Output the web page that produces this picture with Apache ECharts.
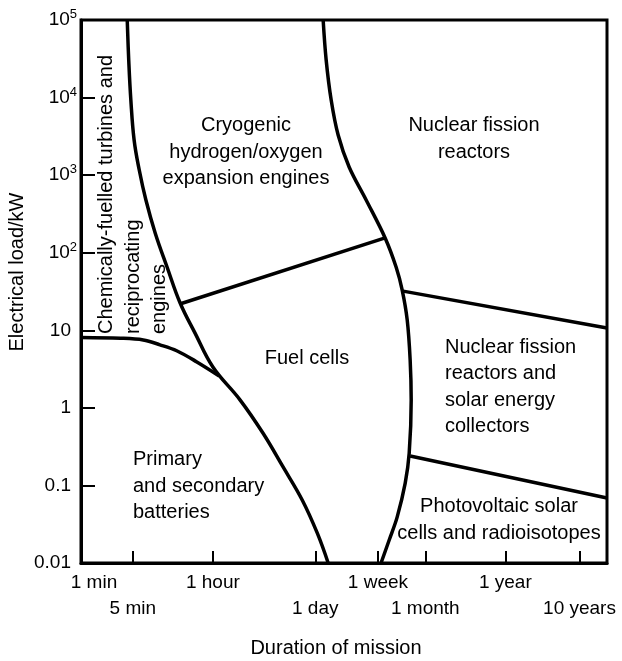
<!DOCTYPE html>
<html>
<head>
<meta charset="utf-8">
<title>Power sources by load and mission duration</title>
<script src="https://cdn.jsdelivr.net/npm/echarts@6/dist/echarts.min.js"></script>
<style>
  html, body { margin: 0; padding: 0; background: #fff; }
  #chart { width: 622px; height: 661px; }
</style>
</head>
<body>
<div id="chart"></div>
<script>
// durations in minutes, loads in kW
var durTicks = [1, 5, 60, 1440, 10080, 43830, 525960, 5259600];
var durNames = ['1 min', '5 min', '1 hour', '1 day', '1 week', '1 month', '1 year', '10 years'];
var loadTicks = [0.01, 0.1, 1, 10, 100, 1000, 10000, 100000];

// chemical engines | cryogenic engines, then batteries | fuel cells
var chemBoundary = [[4.2, 100000], [4.4, 30500], [4.7, 9300], [5.2, 2840], [6.1, 1165], [7.5, 478],
  [10, 180], [14.5, 65], [21.7, 22.5], [34.5, 9.2], [60, 3.36], [140, 1.26], [285, 0.47],
  [530, 0.173], [960, 0.065], [1530, 0.0244], [2150, 0.01]];
// top of the batteries region
var batteryTop = [[1, 8.1], [3.4, 7.9], [6.9, 7.5], [11.6, 6.5], [19.5, 5.45], [36, 3.94], [73, 2.58]];
// left edge of the nuclear / solar regions
var nuclearBoundary = [[1840, 100000], [2020, 30500], [2360, 9300], [2930, 3290], [4120, 1274],
  [6990, 478], [12600, 155], [17750, 65], [21400, 33], [25000, 13.6], [27400, 4.14], [28300, 1.26],
  [26600, 0.26], [23500, 0.107], [18300, 0.039], [14300, 0.0198], [11100, 0.01]];
var fuelCellTop = [[22, 22], [12600, 155]];
var solarTop = [[22000, 32], [12350000, 10.7]];
var photovoltaicTop = [[27400, 0.24], [12350000, 0.069]];

var X_MAX = 12350000;
var FONT = "'Liberation Sans', Arial, sans-serif";

// tick labels alternate between two rows under the axis
var rowOne = durTicks.filter(function (v, i) { return i % 2 === 0; });
var rowTwo = durTicks.filter(function (v, i) { return i % 2 === 1; });

function tickName(v) {
  for (var i = 0; i < durTicks.length; i++) {
    if (Math.abs(Math.log10(durTicks[i]) - Math.log10(v)) < 0.01) return durNames[i];
  }
  return '';
}

function boundary(name, data, smooth) {
  return {
    name: name,
    type: 'line',
    data: data,
    smooth: smooth,
    showSymbol: false,
    silent: true,
    lineStyle: { color: '#000', width: 3.5 },
    z: 3
  };
}

function label(text, x, y, align, rotate) {
  return {
    type: 'text',
    x: x,
    y: y,
    rotation: rotate ? Math.PI / 2 : 0,
    style: {
      text: text,
      fill: '#000',
      fontSize: 20,
      fontFamily: FONT,
      lineHeight: 26.5,
      align: align,
      verticalAlign: 'middle'
    }
  };
}

var chart = echarts.init(document.getElementById('chart'));

var option = {
  animation: false,
  grid: {
    left: 81,
    top: 20,
    width: 526,
    height: 543,
    show: true,
    borderColor: '#000',
    borderWidth: 3
  },
  xAxis: [{
    type: 'log',
    logBase: 10,
    min: 1,
    max: X_MAX,
    axisLine: { lineStyle: { color: '#000', width: 3 } },
    axisTick: {
      inside: true,
      length: 12,
      customValues: durTicks.slice(1),
      lineStyle: { color: '#000', width: 2 }
    },
    axisLabel: {
      customValues: rowOne,
      showMinLabel: true,
      showMaxLabel: true,
      margin: 10,
      color: '#000',
      fontSize: 19,
      fontFamily: FONT,
      formatter: function (v) {
        var name = tickName(v);
        return v < 2 ? '{first|' + name + '}' : name;
      },
      rich: {
        first: { fontSize: 19, fontFamily: FONT, color: '#000', padding: [0, 0, 0, 26] }
      }
    },
    splitLine: { show: false }
  }, {
    type: 'log',
    logBase: 10,
    min: 1,
    max: X_MAX,
    position: 'bottom',
    axisLine: { show: false },
    axisTick: { show: false },
    axisLabel: {
      customValues: rowTwo,
      showMinLabel: true,
      showMaxLabel: true,
      margin: 36,
      color: '#000',
      fontSize: 19,
      fontFamily: FONT,
      formatter: tickName
    },
    splitLine: { show: false }
  }],
  yAxis: {
    type: 'log',
    logBase: 10,
    min: 0.01,
    max: 100000,
    axisLine: { lineStyle: { color: '#000', width: 3 } },
    axisTick: {
      inside: true,
      length: 14,
      customValues: loadTicks.slice(1, -1),
      lineStyle: { color: '#000', width: 2 }
    },
    axisLabel: {
      customValues: loadTicks,
      showMinLabel: true,
      showMaxLabel: true,
      margin: 4,
      formatter: function (v) {
        var e = Math.round(Math.log10(v));
        if (e >= 2) return '{n|10}{sup|' + e + '}';
        var plain = { 1: '10', 0: '1', '-1': '0.1', '-2': '0.01' }[e];
        return '{p|' + plain + '}';
      },
      rich: {
        n: { fontSize: 19, fontFamily: FONT, color: '#000' },
        sup: { fontSize: 13, fontFamily: FONT, color: '#000', padding: [0, 0, 11, 0] },
        p: { fontSize: 19, fontFamily: FONT, color: '#000', padding: [0, 6, 0, 0] }
      }
    },
    splitLine: { show: false }
  },
  series: [
    boundary('chemical', chemBoundary, 0.4),
    boundary('batteries', batteryTop, 0.35),
    boundary('nuclear', nuclearBoundary, 0.35),
    boundary('fuel cells', fuelCellTop, false),
    boundary('solar', solarTop, false),
    boundary('photovoltaic', photovoltaicTop, false)
  ],
  graphic: [
    label('Cryogenic\nhydrogen/oxygen\nexpansion engines', 246, 152, 'center'),
    label('Nuclear fission\nreactors', 474, 139, 'center'),
    label('Fuel cells', 307, 358, 'center'),
    label('Nuclear fission\nreactors and\nsolar energy\ncollectors', 445, 387, 'left'),
    label('Photovoltaic solar\ncells and radioisotopes', 499, 520, 'center'),
    label('Primary\nand secondary\nbatteries', 133, 486, 'left'),
    label('Chemically-fuelled turbines and\nreciprocating\nengines', 133, 334, 'left', true),
    label('Electrical load/kW', 17, 272, 'center', true),
    label('Duration of mission', 336, 648, 'center')
  ]
};

chart.setOption(option);
</script>
</body>
</html>
